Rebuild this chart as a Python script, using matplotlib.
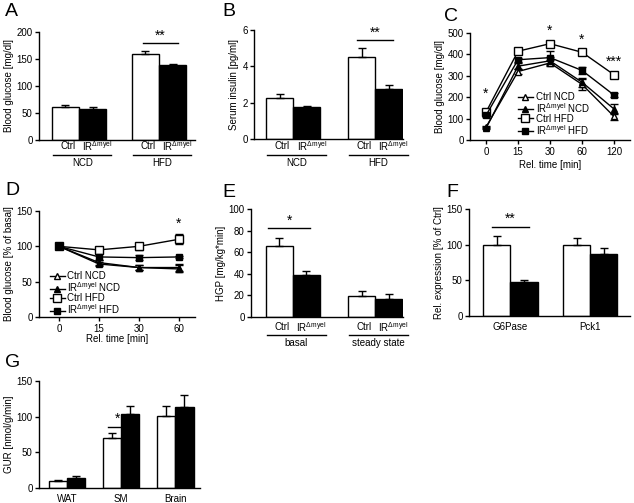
import matplotlib
matplotlib.use("Agg")
import matplotlib.pyplot as plt
from matplotlib.lines import Line2D
import numpy as np

plt.rcParams['font.family'] = ['Liberation Sans', 'DejaVu Sans']
plt.rcParams['mathtext.fontset'] = 'custom'
plt.rcParams['mathtext.rm'] = 'Liberation Sans'
plt.rcParams['mathtext.it'] = 'Liberation Sans:italic'
plt.rcParams['font.size'] = 7
plt.rcParams['axes.linewidth'] = 1.0
plt.rcParams['xtick.major.width'] = 1.0
plt.rcParams['ytick.major.width'] = 1.0
plt.rcParams['xtick.major.size'] = 3
plt.rcParams['ytick.major.size'] = 3
plt.rcParams['xtick.major.pad'] = 2
plt.rcParams['ytick.major.pad'] = 1.5

IR = r'IR$^{\Delta \mathrm{myel}}$'

# ---- data ----
# A: blood glucose
a_groups = ['NCD', 'HFD']
a_ctrl = [61, 160]
a_ctrl_err = [3, 5]
a_ir = [58, 138]
a_ir_err = [3, 3]

# B: serum insulin
b_groups = ['NCD', 'HFD']
b_ctrl = [2.25, 4.5]
b_ctrl_err = [0.2, 0.5]
b_ir = [1.75, 2.75]
b_ir_err = [0.08, 0.25]

# C: GTT
c_times = ['0', '15', '30', '60', '120']
c_ctrl_ncd = [60, 320, 360, 260, 110]
c_ctrl_ncd_err = [5, 12, 15, 25, 15]
c_ir_ncd = [55, 345, 370, 270, 145]
c_ir_ncd_err = [5, 15, 20, 20, 25]
c_ctrl_hfd = [130, 415, 450, 410, 305]
c_ctrl_hfd_err = [10, 8, 10, 15, 10]
c_ir_hfd = [115, 375, 385, 325, 210]
c_ir_hfd_err = [8, 10, 30, 15, 10]
c_stars = ['*', '', '*', '*', '***']
c_star_y = [215, 0, 510, 470, 365]

# D: ITT, % of basal
d_times = ['0', '15', '30', '60']
d_ctrl_ncd = [100, 75, 70, 70]
d_ctrl_ncd_err = [0, 3, 4, 5]
d_ir_ncd = [100, 77, 70, 68]
d_ir_ncd_err = [0, 3, 4, 5]
d_ctrl_hfd = [100, 95, 100, 110]
d_ctrl_hfd_err = [0, 3, 5, 7]
d_ir_hfd = [100, 85, 84, 85]
d_ir_hfd_err = [0, 5, 4, 2]

# E: HGP
e_groups = ['basal', 'steady state']
e_ctrl = [66, 19]
e_ctrl_err = [7, 5]
e_ir = [39, 17]
e_ir_err = [3.5, 4]

# F: expression
f_genes = ['G6Pase', 'Pck1']
f_ctrl = [100, 100]
f_ctrl_err = [12, 9]
f_ir = [47, 87]
f_ir_err = [3, 8]

# G: GUR
g_tissues = ['WAT', 'SM', 'Brain']
g_ctrl = [10, 70, 101]
g_ctrl_err = [1.5, 7, 14]
g_ir = [14, 104, 114]
g_ir_err = [3, 11, 17]

W, H = 634, 503
fig = plt.figure(figsize=(W / 100, H / 100), dpi=100)


def add_ax(l, t, r, b):
    ax = fig.add_axes([l / W, 1 - b / H, (r - l) / W, (b - t) / H])
    ax.spines['top'].set_visible(False)
    ax.spines['right'].set_visible(False)
    return ax


def letter(x, y, s):
    fig.text(x / W, 1 - y / H, s, fontsize=14, va='top', ha='left')


def bars(ax, ctrl, ctrl_err, ir, ir_err, width):
    x = np.arange(len(ctrl))
    z = np.zeros(len(ctrl))
    ax.bar(x - width / 2, ctrl, width, color='white', edgecolor='black',
           linewidth=1.0, yerr=[z, ctrl_err], capsize=3,
           error_kw=dict(elinewidth=1, capthick=1), zorder=2)
    ax.bar(x + width / 2, ir, width, color='black', edgecolor='black',
           linewidth=1.0, yerr=[z, ir_err], capsize=3,
           error_kw=dict(elinewidth=1, capthick=1), zorder=2)
    return x


def sig(ax, x0, x1, y, ys, s, xs=None):
    ax.plot([x0, x1], [y, y], color='black', lw=1, zorder=1)
    if xs is None:
        xs = (x0 + x1) / 2
    ax.text(xs, ys, s, ha='center', va='center', fontsize=10)


def group_labels(ax, x, groups, width, hpx, off1, off2, off3):
    tr = ax.get_xaxis_transform()
    for xi, g in zip(x, groups):
        ax.text(xi - width / 2 + 0.03, -off1 / hpx, 'Ctrl', transform=tr,
                ha='center', va='center', fontsize=7)
        ax.text(xi + width / 2 + 0.06, -off1 / hpx, IR, transform=tr,
                ha='center', va='center', fontsize=7)
        ax.plot([xi - 0.32, xi + 0.4], [-off2 / hpx] * 2, transform=tr,
                color='black', lw=1, clip_on=False)
        ax.text(xi + 0.04, -off3 / hpx, g, transform=tr,
                ha='center', va='center', fontsize=7)


def curves(ax, xs, series):
    ek = dict(color='black', lw=1, capsize=3, elinewidth=1, capthick=1)
    handles = []
    for y, err, mk, fc, ms, lab in series:
        ax.errorbar(xs, y, yerr=err, marker=mk, mfc=fc, mec='black',
                    ms=ms, **ek)
        handles.append(Line2D([], [], color='black', lw=1, marker=mk,
                              mfc=fc, mec='black', ms=ms, label=lab))
    return handles


# ---- A ----
ax = add_ax(39, 32, 195, 140)
x = bars(ax, a_ctrl, a_ctrl_err, a_ir, a_ir_err, 0.34)
ax.set_xlim(-0.5, 1.45)
ax.set_ylim(0, 200)
ax.set_yticks([0, 50, 100, 150, 200])
ax.set_xticks([])
ax.set_ylabel('Blood glucose [mg/dl]', fontsize=7, labelpad=2)
sig(ax, 0.8, 1.24, 180, 193, '**')
group_labels(ax, x, a_groups, 0.34, 108, 6, 15, 23)
letter(5, 3, 'A')

# ---- B ----
ax = add_ax(254, 30, 403, 139)
x = bars(ax, b_ctrl, b_ctrl_err, b_ir, b_ir_err, 0.33)
ax.set_xlim(-0.48, 1.34)
ax.set_ylim(0, 6)
ax.set_yticks([0, 2, 4, 6])
ax.set_xticks([])
ax.set_ylabel('Serum insulin [pg/ml]', fontsize=7, labelpad=2)
sig(ax, 0.78, 1.22, 5.45, 5.85, '**')
group_labels(ax, x, b_groups, 0.33, 109, 7, 16, 24)
letter(222, 3, 'B')

# ---- C ----
ax = add_ax(470, 33, 630, 140)
xc = np.arange(len(c_times))
h = curves(ax, xc, [
    (c_ctrl_ncd, c_ctrl_ncd_err, '^', 'white', 5, 'Ctrl NCD'),
    (c_ir_ncd, c_ir_ncd_err, '^', 'black', 5, IR + ' NCD'),
    (c_ctrl_hfd, c_ctrl_hfd_err, 's', 'white', 6, 'Ctrl HFD'),
    (c_ir_hfd, c_ir_hfd_err, 's', 'black', 5, IR + ' HFD'),
])
for xi, s, ys in zip(xc, c_stars, c_star_y):
    if s:
        ax.text(xi, ys, s, ha='center', va='center', fontsize=10)
ax.set_xlim(-0.5, 4.5)
ax.set_ylim(0, 500)
ax.set_yticks([0, 100, 200, 300, 400, 500])
ax.set_xticks(xc)
ax.set_xticklabels(c_times)
ax.set_xlabel('Rel. time [min]', fontsize=7, labelpad=2)
ax.set_ylabel('Blood glucose [mg/dl]', fontsize=7, labelpad=2)
ax.legend(handles=h, loc='upper left', bbox_to_anchor=(0.30, 0.45),
          frameon=False, fontsize=7, handlelength=1.5, handletextpad=0.3,
          labelspacing=-0.1, handleheight=0.6, borderaxespad=0, borderpad=0)
letter(444, 8, 'C')

# ---- D ----
ax = add_ax(39, 211, 195, 317)
xd = np.arange(len(d_times))
h = curves(ax, xd, [
    (d_ctrl_ncd, d_ctrl_ncd_err, '^', 'white', 5, 'Ctrl NCD'),
    (d_ir_ncd, d_ir_ncd_err, '^', 'black', 5, IR + ' NCD'),
    (d_ctrl_hfd, d_ctrl_hfd_err, 's', 'white', 6, 'Ctrl HFD'),
    (d_ir_hfd, d_ir_hfd_err, 's', 'black', 5, IR + ' HFD'),
])
ax.text(3, 132, '*', ha='center', va='center', fontsize=10)
ax.set_xlim(-0.5, 3.4)
ax.set_ylim(0, 150)
ax.set_yticks([0, 50, 100, 150])
ax.set_xticks(xd)
ax.set_xticklabels(d_times)
ax.set_xlabel('Rel. time [min]', fontsize=7, labelpad=0)
ax.set_ylabel('Blood glucose [% of basal]', fontsize=7, labelpad=2)
ax.legend(handles=h, loc='upper left', bbox_to_anchor=(0.07, 0.43),
          frameon=False, fontsize=7, handlelength=1.5, handletextpad=0.3,
          labelspacing=-0.1, handleheight=0.6, borderaxespad=0, borderpad=0)
letter(5, 182, 'D')

# ---- E ----
ax = add_ax(251, 209, 403, 317)
x = bars(ax, e_ctrl, e_ctrl_err, e_ir, e_ir_err, 0.33)
ax.set_xlim(-0.51, 1.34)
ax.set_ylim(0, 100)
ax.set_yticks([0, 20, 40, 60, 80, 100])
ax.set_xticks([])
ax.set_ylabel('HGP [mg/kg*min]', fontsize=7, labelpad=2)
sig(ax, -0.3, 0.21, 82, 89, '*')
group_labels(ax, x, e_groups, 0.33, 108, 10, 18, 26)
letter(222, 184, 'E')

# ---- F ----
ax = add_ax(469, 209, 630, 316)
x = bars(ax, f_ctrl, f_ctrl_err, f_ir, f_ir_err, 0.34)
ax.set_xlim(-0.52, 1.5)
ax.set_ylim(0, 150)
ax.set_yticks([0, 50, 100, 150])
ax.set_xticks(x)
ax.set_xticklabels(f_genes)
ax.tick_params(axis='x', length=0, pad=4)
ax.set_ylabel('Rel. expression [% of Ctrl]', fontsize=7, labelpad=2)
sig(ax, -0.23, 0.23, 125, 136, '**')
letter(446, 184, 'F')

# ---- G ----
ax = add_ax(39, 381, 200, 488)
x = bars(ax, g_ctrl, g_ctrl_err, g_ir, g_ir_err, 0.34)
ax.set_xlim(-0.52, 2.46)
ax.set_ylim(0, 150)
ax.set_yticks([0, 50, 100, 150])
ax.set_xticks(x)
ax.set_xticklabels(g_tissues)
ax.tick_params(axis='x', length=0, pad=4)
ax.set_ylabel('GUR [nmol/g/min]', fontsize=7, labelpad=2)
sig(ax, 0.76, 1.13, 85.5, 97, '*', xs=0.93)
letter(5, 354, 'G')

fig.savefig('out.png', dpi=100)
